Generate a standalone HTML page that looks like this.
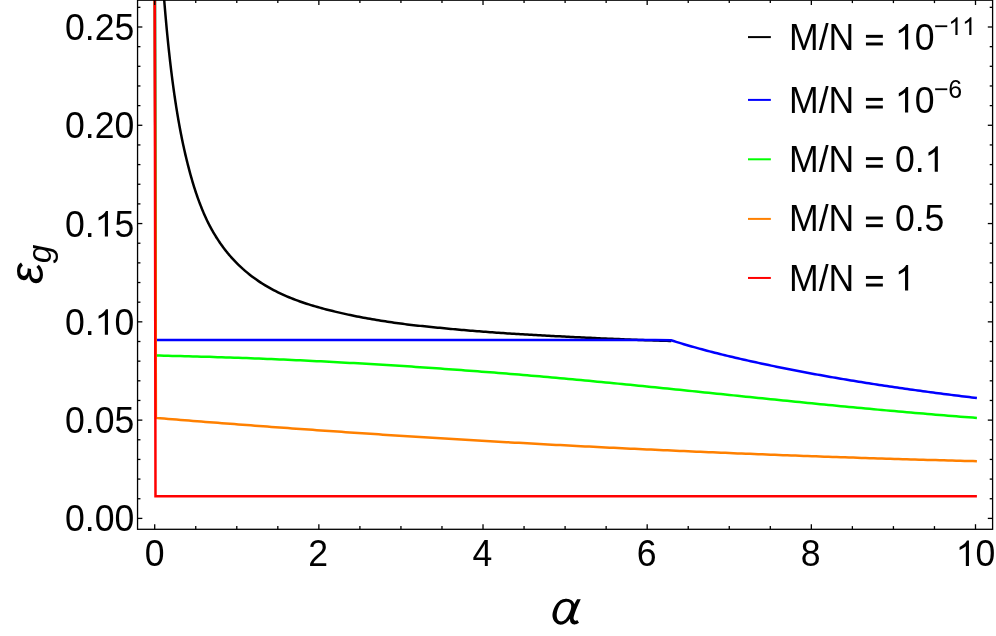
<!DOCTYPE html>
<html><head><meta charset="utf-8"><title>plot</title>
<style>
html,body{margin:0;padding:0;background:#fff;}
body{width:996px;height:636px;overflow:hidden;font-family:"Liberation Sans",sans-serif;}
svg{display:block;}
text{font-family:"Liberation Sans",sans-serif;fill:#000;}
</style></head><body>
<svg width="996" height="636" viewBox="0 0 996 636" style="will-change:transform">
<rect width="996" height="636" fill="#fff"/>
<defs><clipPath id="c"><rect x="137.55" y="0" width="855.05" height="529.3"/></clipPath></defs>
<g clip-path="url(#c)" fill="none" stroke-width="2.5" stroke-linejoin="miter" stroke-linecap="butt">
<polyline stroke="#000" points="162.09,-27.97 162.56,-21.38 163.03,-14.99 163.50,-8.80 163.97,-2.81 164.44,3.01 164.91,8.65 165.38,14.13 165.85,19.44 166.32,24.60 166.78,29.62 167.25,34.50 167.72,39.24 168.19,43.85 168.66,48.34 169.13,52.71 169.60,56.96 170.07,61.11 170.54,65.15 171.01,69.08 171.48,72.92 171.95,76.66 172.42,80.31 172.89,83.87 173.36,87.35 173.83,90.74 174.30,94.06 174.77,97.30 175.24,100.46 175.71,103.55 176.18,106.58 176.65,109.53 177.12,112.42 177.59,115.25 178.06,118.02 178.53,120.73 179.00,123.38 179.47,125.97 179.94,128.52 180.41,131.01 180.88,133.44 181.35,135.83 181.82,138.18 182.29,140.47 182.76,142.72 183.23,144.93 183.70,147.10 184.17,149.22 184.64,151.30 185.11,153.35 185.57,155.36 186.04,157.33 186.51,159.26 186.97,161.16 187.44,163.03 187.90,164.86 188.36,166.66 188.82,168.43 189.28,170.17 189.74,171.88 190.20,173.56 190.65,175.22 191.11,176.84 191.57,178.44 192.02,180.02 192.48,181.56 192.93,183.09 193.39,184.58 193.84,186.06 194.30,187.51 194.75,188.94 195.20,190.35 195.66,191.73 196.11,193.09 196.57,194.44 197.02,195.76 197.48,197.06 197.93,198.34 198.39,199.61 198.85,200.85 199.30,202.08 199.76,203.29 200.22,204.48 200.68,205.66 201.13,206.82 201.59,207.96 202.04,209.09 202.49,210.20 202.95,211.30 203.40,212.38 203.85,213.45 204.31,214.50 204.76,215.54 205.22,216.56 205.68,217.57 206.13,218.57 206.59,219.55 207.05,220.52 207.52,221.48 207.98,222.42 208.45,223.35 208.91,224.27 209.38,225.18 209.86,226.07 210.33,226.95 210.80,227.82 211.27,228.68 211.74,229.53 212.21,230.37 212.68,231.19 213.16,232.01 213.63,232.82 214.10,233.62 214.57,234.41 215.04,235.19 215.51,235.96 215.99,236.72 216.46,237.47 216.93,238.21 217.40,238.95 217.87,239.67 218.34,240.39 218.82,241.10 219.29,241.80 219.76,242.50 220.23,243.18 220.70,243.86 221.18,244.53 221.65,245.19 222.12,245.85 222.59,246.50 223.06,247.14 223.54,247.77 224.01,248.40 224.48,249.02 224.95,249.64 225.42,250.25 225.90,250.85 226.37,251.44 226.84,252.03 227.31,252.61 227.78,253.19 228.26,253.76 228.73,254.33 229.20,254.88 229.67,255.44 230.14,255.99 230.62,256.53 231.09,257.06 231.56,257.60 232.03,258.12 232.50,258.64 232.98,259.16 233.45,259.67 233.92,260.17 234.39,260.68 234.86,261.17 235.34,261.66 235.81,262.15 236.29,262.63 238.48,264.81 240.67,266.90 242.86,268.90 245.06,270.82 247.25,272.66 249.44,274.43 251.63,276.14 253.82,277.78 256.01,279.36 258.20,280.87 260.39,282.34 262.58,283.75 264.78,285.11 266.97,286.42 269.17,287.68 271.36,288.90 273.56,290.07 275.76,291.20 277.96,292.30 280.15,293.36 282.35,294.39 284.55,295.38 286.75,296.34 288.95,297.27 291.15,298.16 293.35,299.03 295.55,299.86 297.75,300.67 299.95,301.46 302.15,302.22 304.35,302.96 306.54,303.69 308.74,304.39 310.93,305.08 313.13,305.75 315.32,306.41 317.51,307.04 319.71,307.66 321.90,308.26 324.09,308.84 326.28,309.42 328.47,309.98 330.66,310.53 332.85,311.07 335.04,311.60 337.22,312.12 339.41,312.64 341.59,313.15 343.78,313.64 345.96,314.13 348.14,314.61 350.33,315.07 352.51,315.53 354.69,315.97 356.88,316.41 359.06,316.84 361.24,317.26 363.43,317.67 365.61,318.07 367.79,318.47 369.98,318.85 372.16,319.23 374.35,319.60 376.53,319.97 378.71,320.33 380.90,320.68 383.08,321.02 385.26,321.36 387.45,321.69 389.63,322.02 391.81,322.34 394.00,322.65 396.18,322.96 398.36,323.26 400.55,323.56 402.73,323.85 404.92,324.13 407.10,324.40 409.29,324.66 411.47,324.92 413.66,325.16 415.85,325.41 418.03,325.64 420.22,325.87 422.40,326.10 424.59,326.33 426.78,326.55 428.96,326.77 431.15,326.98 433.33,327.20 435.52,327.42 437.70,327.64 439.88,327.86 442.07,328.07 444.25,328.29 446.43,328.50 448.62,328.71 450.80,328.92 452.98,329.12 455.16,329.32 457.35,329.52 459.53,329.71 461.71,329.90 463.90,330.09 466.08,330.28 468.26,330.46 470.45,330.64 472.63,330.82 474.81,331.00 477.00,331.17 479.18,331.34 481.36,331.51 483.55,331.68 485.73,331.84 487.91,332.00 490.10,332.16 492.28,332.32 494.46,332.48 496.65,332.63 498.83,332.79 501.01,332.94 503.20,333.08 505.38,333.23 507.56,333.38 509.75,333.52 511.93,333.66 514.11,333.80 516.30,333.94 518.48,334.07 520.66,334.21 522.85,334.34 525.03,334.47 527.21,334.60 529.40,334.73 531.58,334.85 533.76,334.98 535.95,335.10 538.13,335.23 540.31,335.35 542.50,335.47 544.68,335.58 546.86,335.70 549.05,335.82 551.23,335.93 553.41,336.04 555.60,336.16 557.78,336.27 559.96,336.37 562.15,336.48 564.33,336.59 566.51,336.70 568.70,336.81 570.88,336.92 573.06,337.02 575.25,337.13 577.43,337.24 579.61,337.35 581.80,337.45 583.98,337.56 586.16,337.66 588.35,337.77 590.53,337.87 592.71,337.97 594.89,338.07 597.08,338.18 599.26,338.28 601.44,338.38 603.63,338.47 605.81,338.57 607.99,338.67 610.18,338.76 612.36,338.85 614.54,338.95 616.73,339.04 618.91,339.12 621.09,339.21 623.28,339.30 625.46,339.38 627.64,339.47 629.83,339.55 632.01,339.64 634.19,339.72 636.38,339.80 638.56,339.89 640.74,339.97 642.93,340.05 645.11,340.13 647.29,340.20 649.48,340.28 651.66,340.36 653.84,340.43 656.03,340.51 658.21,340.58 660.39,340.65 662.58,340.72 664.76,340.79 666.94,340.86 669.13,340.93 671.31,341.00"/>
<polyline stroke="#0000ff" points="154.90,-5.00 155.75,339.90 655.00,339.90 671.00,340.20 673.57,341.05 676.14,341.85 678.71,342.64 681.28,343.42 683.85,344.19 686.42,344.95 688.99,345.70 691.56,346.44 694.14,347.16 696.71,347.88 699.28,348.59 701.85,349.29 704.42,349.99 706.99,350.67 709.56,351.34 712.13,352.01 714.70,352.67 717.27,353.32 719.84,353.97 722.41,354.60 724.98,355.23 727.55,355.85 730.12,356.47 732.69,357.08 735.26,357.68 737.84,358.28 740.41,358.87 742.98,359.46 745.55,360.04 748.12,360.62 750.69,361.19 753.26,361.75 755.83,362.31 758.40,362.87 760.97,363.42 763.54,363.97 766.11,364.52 768.68,365.06 771.25,365.60 773.82,366.13 776.39,366.66 778.96,367.19 781.54,367.71 784.11,368.23 786.68,368.74 789.25,369.25 791.82,369.76 794.39,370.26 796.96,370.76 799.53,371.26 802.10,371.75 804.67,372.24 807.24,372.72 809.81,373.21 812.38,373.68 814.95,374.16 817.52,374.63 820.09,375.10 822.66,375.56 825.24,376.02 827.81,376.48 830.38,376.93 832.95,377.38 835.52,377.82 838.09,378.27 840.66,378.71 843.23,379.14 845.80,379.57 848.37,380.00 850.94,380.43 853.51,380.85 856.08,381.27 858.65,381.69 861.22,382.10 863.79,382.51 866.36,382.92 868.94,383.32 871.51,383.73 874.08,384.12 876.65,384.52 879.22,384.91 881.79,385.30 884.36,385.69 886.93,386.07 889.50,386.45 892.07,386.83 894.64,387.21 897.21,387.58 899.78,387.95 902.35,388.32 904.92,388.69 907.49,389.05 910.06,389.41 912.64,389.77 915.21,390.12 917.78,390.48 920.35,390.83 922.92,391.18 925.49,391.52 928.06,391.87 930.63,392.21 933.20,392.55 935.77,392.89 938.34,393.23 940.91,393.56 943.48,393.89 946.05,394.22 948.62,394.55 951.19,394.88 953.76,395.20 956.34,395.52 958.91,395.84 961.48,396.16 964.05,396.48 966.62,396.80 969.19,397.11 971.76,397.42 974.33,397.73 976.90,398.04"/>
<polyline stroke="#00ff00" points="154.90,-5.00 155.80,355.52 159.93,355.60 164.05,355.69 168.18,355.78 172.30,355.88 176.43,355.98 180.56,356.08 184.68,356.18 188.81,356.29 192.94,356.40 197.06,356.51 201.19,356.63 205.31,356.75 209.44,356.87 213.57,357.00 217.69,357.13 221.82,357.26 225.94,357.40 230.07,357.54 234.20,357.68 238.32,357.82 242.45,357.97 246.57,358.12 250.70,358.28 254.83,358.43 258.95,358.59 263.08,358.76 267.21,358.92 271.33,359.09 275.46,359.26 279.58,359.44 283.71,359.62 287.84,359.80 291.96,359.98 296.09,360.17 300.21,360.36 304.34,360.55 308.47,360.75 312.59,360.95 316.72,361.15 320.85,361.36 324.97,361.57 329.10,361.78 333.22,361.99 337.35,362.21 341.48,362.43 345.60,362.65 349.73,362.88 353.85,363.11 357.98,363.34 362.11,363.57 366.23,363.81 370.36,364.05 374.48,364.30 378.61,364.54 382.74,364.79 386.86,365.04 390.99,365.30 395.12,365.56 399.24,365.82 403.37,366.08 407.49,366.35 411.62,366.62 415.75,366.89 419.87,367.17 424.00,367.44 428.12,367.73 432.25,368.01 436.38,368.30 440.50,368.59 444.63,368.88 448.76,369.17 452.88,369.47 457.01,369.77 461.13,370.08 465.26,370.38 469.39,370.69 473.51,371.00 477.64,371.32 481.76,371.64 485.89,371.96 490.02,372.28 494.14,372.61 498.27,372.94 502.39,373.27 506.52,373.60 510.65,373.94 514.77,374.28 518.90,374.62 523.03,374.97 527.15,375.31 531.28,375.66 535.40,376.02 539.53,376.37 543.66,376.73 547.78,377.09 551.91,377.46 556.03,377.83 560.16,378.20 564.29,378.57 568.41,378.94 572.54,379.32 576.67,379.70 580.79,380.08 584.92,380.47 589.04,380.86 593.17,381.25 597.30,381.64 601.42,382.03 605.55,382.43 609.67,382.83 613.80,383.23 617.93,383.63 622.05,384.04 626.18,384.44 630.31,384.85 634.43,385.26 638.56,385.67 642.68,386.08 646.81,386.50 650.94,386.91 655.06,387.33 659.19,387.75 663.31,388.17 667.44,388.59 671.57,389.01 675.69,389.43 679.82,389.85 683.94,390.27 688.07,390.70 692.20,391.12 696.32,391.55 700.45,391.97 704.58,392.40 708.70,392.82 712.83,393.25 716.95,393.67 721.08,394.10 725.21,394.53 729.33,394.95 733.46,395.38 737.58,395.80 741.71,396.23 745.84,396.65 749.96,397.08 754.09,397.50 758.22,397.92 762.34,398.35 766.47,398.77 770.59,399.19 774.72,399.61 778.85,400.03 782.97,400.45 787.10,400.86 791.22,401.28 795.35,401.69 799.48,402.11 803.60,402.52 807.73,402.93 811.85,403.34 815.98,403.74 820.11,404.15 824.23,404.55 828.36,404.95 832.49,405.35 836.61,405.75 840.74,406.15 844.86,406.54 848.99,406.93 853.12,407.32 857.24,407.71 861.37,408.10 865.49,408.48 869.62,408.86 873.75,409.24 877.87,409.62 882.00,409.99 886.13,410.37 890.25,410.74 894.38,411.10 898.50,411.47 902.63,411.83 906.76,412.19 910.88,412.55 915.01,412.91 919.13,413.26 923.26,413.61 927.39,413.96 931.51,414.31 935.64,414.65 939.76,414.99 943.89,415.33 948.02,415.66 952.14,415.99 956.27,416.32 960.40,416.65 964.52,416.97 968.65,417.29 972.77,417.61 976.90,417.93"/>
<polyline stroke="#ff8000" points="154.85,-5.00 155.90,417.91 160.03,418.25 164.15,418.59 168.28,418.92 172.40,419.26 176.53,419.59 180.65,419.92 184.78,420.25 188.91,420.58 193.03,420.91 197.16,421.24 201.28,421.56 205.41,421.89 209.53,422.21 213.66,422.53 217.78,422.85 221.91,423.17 226.04,423.49 230.16,423.80 234.29,424.12 238.41,424.43 242.54,424.75 246.66,425.06 250.79,425.37 254.92,425.68 259.04,425.98 263.17,426.29 267.29,426.59 271.42,426.90 275.54,427.20 279.67,427.50 283.79,427.80 287.92,428.10 292.05,428.40 296.17,428.70 300.30,428.99 304.42,429.28 308.55,429.58 312.67,429.87 316.80,430.16 320.93,430.45 325.05,430.73 329.18,431.02 333.30,431.31 337.43,431.59 341.55,431.87 345.68,432.15 349.80,432.43 353.93,432.71 358.06,432.99 362.18,433.27 366.31,433.54 370.43,433.82 374.56,434.09 378.68,434.36 382.81,434.63 386.94,434.90 391.06,435.17 395.19,435.43 399.31,435.70 403.44,435.96 407.56,436.23 411.69,436.49 415.81,436.75 419.94,437.01 424.07,437.27 428.19,437.52 432.32,437.78 436.44,438.03 440.57,438.29 444.69,438.54 448.82,438.79 452.95,439.04 457.07,439.29 461.20,439.53 465.32,439.78 469.45,440.02 473.57,440.27 477.70,440.51 481.82,440.75 485.95,440.99 490.08,441.23 494.20,441.47 498.33,441.70 502.45,441.94 506.58,442.17 510.70,442.40 514.83,442.63 518.96,442.86 523.08,443.09 527.21,443.32 531.33,443.55 535.46,443.77 539.58,444.00 543.71,444.22 547.83,444.44 551.96,444.66 556.09,444.88 560.21,445.10 564.34,445.32 568.46,445.53 572.59,445.75 576.71,445.96 580.84,446.17 584.97,446.38 589.09,446.59 593.22,446.80 597.34,447.01 601.47,447.22 605.59,447.42 609.72,447.63 613.84,447.83 617.97,448.03 622.10,448.23 626.22,448.43 630.35,448.63 634.47,448.83 638.60,449.02 642.72,449.22 646.85,449.41 650.98,449.60 655.10,449.79 659.23,449.98 663.35,450.17 667.48,450.36 671.60,450.55 675.73,450.73 679.85,450.92 683.98,451.10 688.11,451.28 692.23,451.46 696.36,451.64 700.48,451.82 704.61,452.00 708.73,452.17 712.86,452.35 716.99,452.52 721.11,452.70 725.24,452.87 729.36,453.04 733.49,453.21 737.61,453.38 741.74,453.54 745.86,453.71 749.99,453.87 754.12,454.04 758.24,454.20 762.37,454.36 766.49,454.52 770.62,454.68 774.74,454.84 778.87,454.99 783.00,455.15 787.12,455.30 791.25,455.46 795.37,455.61 799.50,455.76 803.62,455.91 807.75,456.06 811.87,456.21 816.00,456.35 820.13,456.50 824.25,456.64 828.38,456.79 832.50,456.93 836.63,457.07 840.75,457.21 844.88,457.35 849.01,457.49 853.13,457.62 857.26,457.76 861.38,457.89 865.51,458.03 869.63,458.16 873.76,458.29 877.88,458.42 882.01,458.55 886.14,458.67 890.26,458.80 894.39,458.93 898.51,459.05 902.64,459.17 906.76,459.30 910.89,459.42 915.02,459.54 919.14,459.66 923.27,459.77 927.39,459.89 931.52,460.01 935.64,460.12 939.77,460.23 943.89,460.35 948.02,460.46 952.15,460.57 956.27,460.68 960.40,460.78 964.52,460.89 968.65,461.00 972.77,461.10 976.90,461.20"/>
<polyline stroke="#ff0000" points="154.70,-5.00 155.50,496.35 976.90,496.35"/>
</g>
<g stroke="#000" stroke-width="1.3" fill="none">
<rect x="137.55" y="0.2" width="855.05" height="529.0999999999999"/>
<line x1="154.70" y1="529.30" x2="154.70" y2="524.20"/><line x1="154.70" y1="0.20" x2="154.70" y2="5.00"/><line x1="195.74" y1="529.30" x2="195.74" y2="526.10"/><line x1="195.74" y1="0.20" x2="195.74" y2="3.10"/><line x1="236.78" y1="529.30" x2="236.78" y2="526.10"/><line x1="236.78" y1="0.20" x2="236.78" y2="3.10"/><line x1="277.82" y1="529.30" x2="277.82" y2="526.10"/><line x1="277.82" y1="0.20" x2="277.82" y2="3.10"/><line x1="318.86" y1="529.30" x2="318.86" y2="524.20"/><line x1="318.86" y1="0.20" x2="318.86" y2="5.00"/><line x1="359.90" y1="529.30" x2="359.90" y2="526.10"/><line x1="359.90" y1="0.20" x2="359.90" y2="3.10"/><line x1="400.94" y1="529.30" x2="400.94" y2="526.10"/><line x1="400.94" y1="0.20" x2="400.94" y2="3.10"/><line x1="441.98" y1="529.30" x2="441.98" y2="526.10"/><line x1="441.98" y1="0.20" x2="441.98" y2="3.10"/><line x1="483.02" y1="529.30" x2="483.02" y2="524.20"/><line x1="483.02" y1="0.20" x2="483.02" y2="5.00"/><line x1="524.06" y1="529.30" x2="524.06" y2="526.10"/><line x1="524.06" y1="0.20" x2="524.06" y2="3.10"/><line x1="565.10" y1="529.30" x2="565.10" y2="526.10"/><line x1="565.10" y1="0.20" x2="565.10" y2="3.10"/><line x1="606.14" y1="529.30" x2="606.14" y2="526.10"/><line x1="606.14" y1="0.20" x2="606.14" y2="3.10"/><line x1="647.18" y1="529.30" x2="647.18" y2="524.20"/><line x1="647.18" y1="0.20" x2="647.18" y2="5.00"/><line x1="688.22" y1="529.30" x2="688.22" y2="526.10"/><line x1="688.22" y1="0.20" x2="688.22" y2="3.10"/><line x1="729.26" y1="529.30" x2="729.26" y2="526.10"/><line x1="729.26" y1="0.20" x2="729.26" y2="3.10"/><line x1="770.30" y1="529.30" x2="770.30" y2="526.10"/><line x1="770.30" y1="0.20" x2="770.30" y2="3.10"/><line x1="811.34" y1="529.30" x2="811.34" y2="524.20"/><line x1="811.34" y1="0.20" x2="811.34" y2="5.00"/><line x1="852.38" y1="529.30" x2="852.38" y2="526.10"/><line x1="852.38" y1="0.20" x2="852.38" y2="3.10"/><line x1="893.42" y1="529.30" x2="893.42" y2="526.10"/><line x1="893.42" y1="0.20" x2="893.42" y2="3.10"/><line x1="934.46" y1="529.30" x2="934.46" y2="526.10"/><line x1="934.46" y1="0.20" x2="934.46" y2="3.10"/><line x1="975.50" y1="529.30" x2="975.50" y2="524.20"/><line x1="975.50" y1="0.20" x2="975.50" y2="5.00"/><line x1="137.55" y1="518.40" x2="142.35" y2="518.40"/><line x1="992.60" y1="518.40" x2="987.80" y2="518.40"/><line x1="137.55" y1="498.74" x2="140.45" y2="498.74"/><line x1="992.60" y1="498.74" x2="989.70" y2="498.74"/><line x1="137.55" y1="479.09" x2="140.45" y2="479.09"/><line x1="992.60" y1="479.09" x2="989.70" y2="479.09"/><line x1="137.55" y1="459.43" x2="140.45" y2="459.43"/><line x1="992.60" y1="459.43" x2="989.70" y2="459.43"/><line x1="137.55" y1="439.78" x2="140.45" y2="439.78"/><line x1="992.60" y1="439.78" x2="989.70" y2="439.78"/><line x1="137.55" y1="420.12" x2="142.35" y2="420.12"/><line x1="992.60" y1="420.12" x2="987.80" y2="420.12"/><line x1="137.55" y1="400.46" x2="140.45" y2="400.46"/><line x1="992.60" y1="400.46" x2="989.70" y2="400.46"/><line x1="137.55" y1="380.81" x2="140.45" y2="380.81"/><line x1="992.60" y1="380.81" x2="989.70" y2="380.81"/><line x1="137.55" y1="361.15" x2="140.45" y2="361.15"/><line x1="992.60" y1="361.15" x2="989.70" y2="361.15"/><line x1="137.55" y1="341.50" x2="140.45" y2="341.50"/><line x1="992.60" y1="341.50" x2="989.70" y2="341.50"/><line x1="137.55" y1="321.84" x2="142.35" y2="321.84"/><line x1="992.60" y1="321.84" x2="987.80" y2="321.84"/><line x1="137.55" y1="302.18" x2="140.45" y2="302.18"/><line x1="992.60" y1="302.18" x2="989.70" y2="302.18"/><line x1="137.55" y1="282.53" x2="140.45" y2="282.53"/><line x1="992.60" y1="282.53" x2="989.70" y2="282.53"/><line x1="137.55" y1="262.87" x2="140.45" y2="262.87"/><line x1="992.60" y1="262.87" x2="989.70" y2="262.87"/><line x1="137.55" y1="243.22" x2="140.45" y2="243.22"/><line x1="992.60" y1="243.22" x2="989.70" y2="243.22"/><line x1="137.55" y1="223.56" x2="142.35" y2="223.56"/><line x1="992.60" y1="223.56" x2="987.80" y2="223.56"/><line x1="137.55" y1="203.90" x2="140.45" y2="203.90"/><line x1="992.60" y1="203.90" x2="989.70" y2="203.90"/><line x1="137.55" y1="184.25" x2="140.45" y2="184.25"/><line x1="992.60" y1="184.25" x2="989.70" y2="184.25"/><line x1="137.55" y1="164.59" x2="140.45" y2="164.59"/><line x1="992.60" y1="164.59" x2="989.70" y2="164.59"/><line x1="137.55" y1="144.94" x2="140.45" y2="144.94"/><line x1="992.60" y1="144.94" x2="989.70" y2="144.94"/><line x1="137.55" y1="125.28" x2="142.35" y2="125.28"/><line x1="992.60" y1="125.28" x2="987.80" y2="125.28"/><line x1="137.55" y1="105.62" x2="140.45" y2="105.62"/><line x1="992.60" y1="105.62" x2="989.70" y2="105.62"/><line x1="137.55" y1="85.97" x2="140.45" y2="85.97"/><line x1="992.60" y1="85.97" x2="989.70" y2="85.97"/><line x1="137.55" y1="66.31" x2="140.45" y2="66.31"/><line x1="992.60" y1="66.31" x2="989.70" y2="66.31"/><line x1="137.55" y1="46.66" x2="140.45" y2="46.66"/><line x1="992.60" y1="46.66" x2="989.70" y2="46.66"/><line x1="137.55" y1="27.00" x2="142.35" y2="27.00"/><line x1="992.60" y1="27.00" x2="987.80" y2="27.00"/><line x1="137.55" y1="7.34" x2="140.45" y2="7.34"/><line x1="992.60" y1="7.34" x2="989.70" y2="7.34"/>
</g>
<text transform="translate(144.80,566.10) scale(1,1.03)" font-size="35.6">0</text><text transform="translate(308.36,566.10) scale(1,1.03)" font-size="35.6">2</text><text transform="translate(472.52,566.10) scale(1,1.03)" font-size="35.6">4</text><text transform="translate(636.68,566.10) scale(1,1.03)" font-size="35.6">6</text><text transform="translate(800.84,566.10) scale(1,1.03)" font-size="35.6">8</text><path transform="translate(955.71,566.10) scale(0.017383,-0.017383)" d="M763 0H583V1147Q518 1085 412.5 1023T223 930V1104Q374 1175 487 1276T647 1472H763Z"/><text transform="translate(975.50,566.10) scale(1,1.03)" font-size="35.6">0</text><text transform="translate(65.02,531.40) scale(1,1.03)" font-size="35.6">0.00</text><text transform="translate(65.02,433.12) scale(1,1.03)" font-size="35.6">0.05</text><text transform="translate(65.02,334.84) scale(1,1.03)" font-size="35.6">0.</text><path transform="translate(94.71,334.84) scale(0.017383,-0.017383)" d="M763 0H583V1147Q518 1085 412.5 1023T223 930V1104Q374 1175 487 1276T647 1472H763Z"/><text transform="translate(114.51,334.84) scale(1,1.03)" font-size="35.6">0</text><text transform="translate(65.02,236.56) scale(1,1.03)" font-size="35.6">0.</text><path transform="translate(94.71,236.56) scale(0.017383,-0.017383)" d="M763 0H583V1147Q518 1085 412.5 1023T223 930V1104Q374 1175 487 1276T647 1472H763Z"/><text transform="translate(114.51,236.56) scale(1,1.03)" font-size="35.6">5</text><text transform="translate(65.02,138.28) scale(1,1.03)" font-size="35.6">0.20</text><text transform="translate(65.02,40.00) scale(1,1.03)" font-size="35.6">0.25</text>
<line x1="748.0" y1="37.1" x2="770.85" y2="37.1" stroke="#000000" stroke-width="2.0"/><text transform="translate(789.00,49.50) scale(1,1.03)" font-size="35.6">M/N</text><rect x="865.95" y="34.85" width="16.9" height="2.95"/><rect x="865.95" y="42.50" width="16.9" height="2.95"/><path transform="translate(894.90,49.50) scale(0.017383,-0.017383)" d="M763 0H583V1147Q518 1085 412.5 1023T223 930V1104Q374 1175 487 1276T647 1472H763Z"/><text transform="translate(914.69,49.50) scale(1,1.03)" font-size="35.6">0</text><text transform="translate(933.70,35.10) scale(1,1.03)" font-size="24.95">−</text><path transform="translate(948.27,35.10) scale(0.012183,-0.012183)" d="M763 0H583V1147Q518 1085 412.5 1023T223 930V1104Q374 1175 487 1276T647 1472H763Z"/><path transform="translate(962.14,35.10) scale(0.012183,-0.012183)" d="M763 0H583V1147Q518 1085 412.5 1023T223 930V1104Q374 1175 487 1276T647 1472H763Z"/><line x1="748.0" y1="99.9" x2="770.85" y2="99.9" stroke="#0000ff" stroke-width="2.0"/><text transform="translate(789.00,112.55) scale(1,1.03)" font-size="35.6">M/N</text><rect x="865.95" y="97.90" width="16.9" height="2.95"/><rect x="865.95" y="105.55" width="16.9" height="2.95"/><path transform="translate(894.90,112.55) scale(0.017383,-0.017383)" d="M763 0H583V1147Q518 1085 412.5 1023T223 930V1104Q374 1175 487 1276T647 1472H763Z"/><text transform="translate(914.69,112.55) scale(1,1.03)" font-size="35.6">0</text><text transform="translate(933.70,98.15) scale(1,1.03)" font-size="24.95">−6</text><line x1="748.0" y1="159.3" x2="770.85" y2="159.3" stroke="#00ff00" stroke-width="2.0"/><text transform="translate(789.00,171.80) scale(1,1.03)" font-size="35.6">M/N</text><rect x="865.95" y="157.15" width="16.9" height="2.95"/><rect x="865.95" y="164.80" width="16.9" height="2.95"/><text transform="translate(894.90,171.80) scale(1,1.03)" font-size="35.6">0.</text><path transform="translate(924.59,171.80) scale(0.017383,-0.017383)" d="M763 0H583V1147Q518 1085 412.5 1023T223 930V1104Q374 1175 487 1276T647 1472H763Z"/><line x1="748.0" y1="218.9" x2="770.85" y2="218.9" stroke="#ff8000" stroke-width="2.0"/><text transform="translate(789.00,231.20) scale(1,1.03)" font-size="35.6">M/N</text><rect x="865.95" y="216.55" width="16.9" height="2.95"/><rect x="865.95" y="224.20" width="16.9" height="2.95"/><text transform="translate(894.90,231.20) scale(1,1.03)" font-size="35.6">0.5</text><line x1="748.0" y1="277.95" x2="770.85" y2="277.95" stroke="#ff0000" stroke-width="2.0"/><text transform="translate(789.00,290.60) scale(1,1.03)" font-size="35.6">M/N</text><rect x="865.95" y="275.95" width="16.9" height="2.95"/><rect x="865.95" y="283.60" width="16.9" height="2.95"/><path transform="translate(894.90,290.60) scale(0.017383,-0.017383)" d="M763 0H583V1147Q518 1085 412.5 1023T223 930V1104Q374 1175 487 1276T647 1472H763Z"/>
<path fill-rule="evenodd" d="M580.79 599.17 L577.09 599.29 L576.96 599.49 L576.84 599.69 L576.72 599.89 L576.60 600.08 L576.48 600.28 L576.35 600.48 L576.23 600.68 L576.12 600.88 L576.00 601.08 L575.88 601.28 L575.76 601.48 L575.65 601.68 L575.53 601.88 L575.42 602.08 L575.31 602.29 L575.20 602.49 L575.09 602.70 L574.98 602.90 L574.87 603.11 L574.76 603.31 L574.66 603.52 L574.55 603.72 L574.44 603.93 L574.34 604.14 L574.18 603.79 L574.02 603.44 L573.86 603.09 L573.68 602.75 L573.50 602.43 L573.30 602.11 L573.09 601.80 L572.85 601.51 L572.60 601.23 L572.33 600.97 L572.04 600.73 L571.74 600.50 L571.42 600.29 L571.09 600.09 L570.75 599.91 L570.40 599.74 L570.05 599.59 L569.69 599.45 L569.33 599.32 L568.96 599.21 L568.60 599.11 L568.23 599.03 L567.85 598.96 L567.48 598.90 L567.10 598.86 L566.72 598.83 L566.35 598.81 L565.97 598.81 L565.59 598.82 L565.21 598.84 L564.83 598.88 L564.45 598.93 L564.08 598.99 L563.70 599.07 L563.33 599.15 L562.96 599.25 L562.60 599.37 L562.24 599.49 L561.88 599.63 L561.54 599.78 L561.19 599.94 L560.86 600.12 L560.53 600.31 L560.20 600.50 L559.89 600.71 L559.58 600.93 L559.28 601.16 L558.98 601.40 L558.69 601.65 L558.41 601.91 L558.14 602.17 L557.87 602.44 L557.61 602.72 L557.36 603.01 L557.11 603.30 L556.87 603.60 L556.63 603.90 L556.41 604.21 L556.19 604.52 L555.97 604.84 L555.76 605.16 L555.56 605.48 L555.37 605.80 L555.18 606.13 L555.00 606.46 L554.82 606.80 L554.65 607.14 L554.49 607.48 L554.33 607.82 L554.18 608.16 L554.03 608.51 L553.89 608.86 L553.75 609.22 L553.62 609.57 L553.49 609.93 L553.37 610.29 L553.26 610.65 L553.15 611.01 L553.04 611.38 L552.94 611.75 L552.85 612.12 L552.77 612.49 L552.69 612.86 L552.63 613.23 L552.57 613.61 L552.52 613.98 L552.49 614.36 L552.47 614.73 L552.46 615.11 L552.46 615.49 L552.48 615.87 L552.51 616.25 L552.55 616.62 L552.61 617.00 L552.68 617.37 L552.76 617.74 L552.86 618.11 L552.97 618.48 L553.09 618.84 L553.23 619.19 L553.38 619.54 L553.54 619.89 L553.72 620.23 L553.91 620.56 L554.11 620.88 L554.33 621.19 L554.55 621.50 L554.79 621.80 L555.05 622.08 L555.31 622.35 L555.59 622.61 L555.88 622.86 L556.18 623.10 L556.49 623.32 L556.81 623.53 L557.15 623.72 L557.49 623.89 L557.84 624.05 L558.20 624.19 L558.56 624.32 L558.93 624.42 L559.30 624.51 L559.68 624.57 L560.05 624.62 L560.43 624.65 L560.81 624.65 L561.19 624.63 L561.57 624.60 L561.95 624.54 L562.32 624.47 L562.69 624.38 L563.06 624.28 L563.42 624.16 L563.78 624.02 L564.13 623.87 L564.48 623.71 L564.82 623.54 L565.15 623.35 L565.47 623.15 L565.79 622.94 L566.10 622.72 L566.41 622.50 L566.70 622.26 L566.99 622.02 L567.27 621.76 L567.55 621.50 L567.82 621.24 L568.08 620.97 L568.34 620.69 L568.59 620.41 L568.84 620.12 L569.08 619.84 L569.32 619.55 L569.56 619.25 L569.80 618.96 L570.03 618.66 L570.03 618.94 L570.03 619.22 L570.03 619.50 L570.03 619.77 L570.05 620.05 L570.07 620.32 L570.10 620.59 L570.14 620.86 L570.19 621.12 L570.26 621.38 L570.34 621.64 L570.44 621.89 L570.56 622.14 L570.69 622.38 L570.84 622.61 L571.01 622.83 L571.19 623.04 L571.38 623.25 L571.59 623.43 L571.81 623.61 L572.03 623.77 L572.27 623.91 L572.52 624.03 L572.77 624.14 L573.03 624.22 L573.30 624.30 L573.57 624.35 L573.84 624.39 L574.12 624.41 L574.40 624.42 L574.68 624.42 L574.95 624.40 L575.23 624.37 L575.50 624.33 L575.76 624.27 L576.03 624.20 L576.29 624.13 L576.54 624.04 L576.80 623.95 L577.05 623.84 L577.30 623.73 L577.54 623.62 L577.79 623.50 L578.03 623.37 L578.28 623.24 L578.52 623.11 L578.76 622.98 L579.00 622.85 L577.21 619.98 L576.81 620.25 L576.42 620.49 L576.03 620.67 L575.64 620.76 L575.25 620.72 L574.88 620.56 L574.52 620.29 L574.21 619.95 L573.95 619.56 L573.76 619.15 L573.64 618.74 L573.59 618.31 L573.58 617.88 L573.62 617.45 L573.69 617.02 L573.79 616.59 L573.91 616.16 L574.03 615.74 L574.15 615.31 L574.28 614.90 L574.41 614.48 L574.54 614.07 L574.67 613.67 L574.80 613.26 L574.94 612.86 L575.08 612.46 L575.22 612.06 L575.36 611.67 L575.50 611.27 L575.65 610.88 L575.80 610.48 L575.95 610.09 L576.10 609.70 L576.25 609.31 L576.41 608.91 L576.57 608.52 L576.73 608.13 L576.90 607.74 L577.06 607.35 L577.23 606.96 L577.40 606.57 L577.57 606.18 L577.74 605.79 L577.91 605.40 L578.08 605.01 L578.26 604.62 L578.44 604.23 L578.61 603.84 L578.79 603.45 L578.97 603.06 L579.15 602.67 L579.33 602.28 L579.51 601.89 L579.69 601.51 L579.88 601.12 L580.06 600.73 L580.24 600.34 L580.43 599.95 L580.61 599.56 L580.79 599.17ZM565.73 601.80 L565.38 601.88 L565.04 601.96 L564.69 602.05 L564.35 602.13 L564.02 602.22 L563.68 602.32 L563.36 602.43 L563.03 602.55 L562.72 602.67 L562.41 602.81 L562.12 602.96 L561.83 603.13 L561.56 603.31 L561.29 603.51 L561.04 603.73 L560.79 603.96 L560.56 604.20 L560.34 604.45 L560.12 604.72 L559.92 605.00 L559.72 605.28 L559.53 605.58 L559.35 605.88 L559.18 606.19 L559.01 606.51 L558.85 606.83 L558.70 607.15 L558.55 607.47 L558.41 607.80 L558.27 608.13 L558.14 608.45 L558.01 608.78 L557.89 609.11 L557.78 609.44 L557.66 609.76 L557.56 610.09 L557.46 610.42 L557.37 610.75 L557.28 611.08 L557.19 611.41 L557.12 611.74 L557.05 612.07 L556.99 612.40 L556.93 612.74 L556.88 613.07 L556.83 613.41 L556.80 613.74 L556.77 614.08 L556.75 614.42 L556.73 614.76 L556.73 615.10 L556.73 615.44 L556.74 615.78 L556.77 616.13 L556.80 616.47 L556.85 616.81 L556.91 617.16 L556.98 617.50 L557.06 617.84 L557.16 618.19 L557.27 618.53 L557.40 618.86 L557.55 619.19 L557.71 619.50 L557.89 619.80 L558.09 620.07 L558.31 620.33 L558.55 620.57 L558.82 620.77 L559.11 620.95 L559.42 621.10 L559.74 621.22 L560.08 621.31 L560.43 621.37 L560.78 621.41 L561.13 621.42 L561.48 621.40 L561.83 621.36 L562.17 621.29 L562.50 621.20 L562.83 621.09 L563.15 620.97 L563.47 620.82 L563.77 620.65 L564.07 620.48 L564.36 620.28 L564.64 620.08 L564.90 619.86 L565.16 619.64 L565.41 619.40 L565.65 619.16 L565.88 618.90 L566.11 618.64 L566.32 618.38 L566.53 618.10 L566.74 617.83 L566.93 617.54 L567.13 617.26 L567.31 616.97 L567.50 616.67 L567.68 616.38 L567.85 616.08 L568.02 615.78 L568.19 615.48 L568.35 615.18 L568.52 614.88 L568.67 614.58 L568.83 614.27 L568.98 613.96 L569.13 613.66 L569.27 613.35 L569.41 613.03 L569.55 612.72 L569.68 612.41 L569.81 612.09 L569.94 611.78 L570.07 611.46 L570.19 611.14 L570.30 610.82 L570.42 610.50 L570.52 610.18 L570.62 609.85 L570.72 609.52 L570.81 609.19 L570.89 608.86 L570.96 608.52 L571.03 608.19 L571.08 607.84 L571.13 607.50 L571.16 607.15 L571.19 606.80 L571.20 606.44 L571.20 606.09 L571.18 605.73 L571.14 605.39 L571.08 605.04 L571.00 604.71 L570.90 604.38 L570.77 604.07 L570.60 603.77 L570.41 603.49 L570.19 603.22 L569.94 602.98 L569.68 602.75 L569.39 602.55 L569.09 602.37 L568.77 602.22 L568.45 602.09 L568.12 602.00 L567.79 601.92 L567.45 601.87 L567.11 601.84 L566.77 601.82 L566.42 601.81 L566.08 601.80 L565.73 601.80Z"/>
<text transform="translate(42.8,284.05) rotate(-90)" font-size="47.5" font-style="italic">ε<tspan font-size="33.3" dy="8.3">g</tspan></text>
</svg>
</body></html>
